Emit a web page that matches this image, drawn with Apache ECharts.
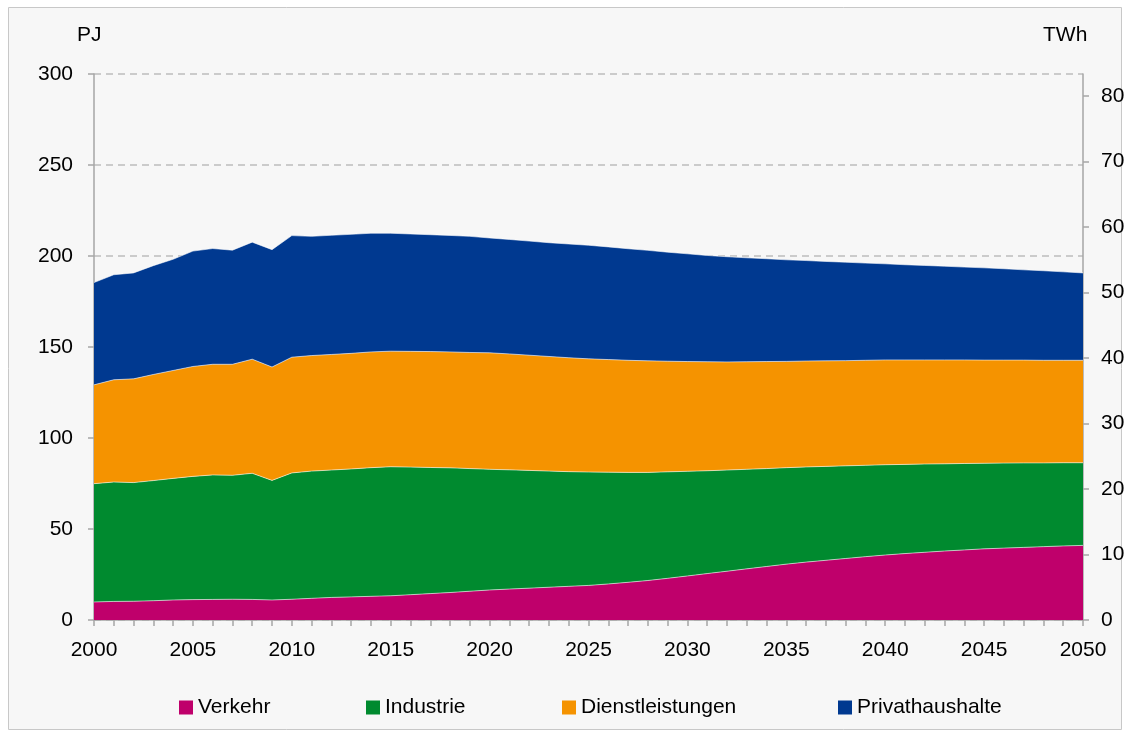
<!DOCTYPE html>
<html>
<head>
<meta charset="utf-8">
<script src="https://cdn.jsdelivr.net/npm/echarts@6/dist/echarts.min.js"></script>
<style>
html,body{margin:0;padding:0;background:#ffffff;}
#chart{width:1130px;height:734px;}
</style>
</head>
<body>
<div id="chart"></div>
<script>
const years = [];
for (let y = 2000; y <= 2050; y++) years.push(String(y));

const seriesNames = ['Verkehr', 'Industrie', 'Dienstleistungen', 'Privathaushalte'];

const verkehr = [9.9, 10.2, 10.3, 10.6, 11.0, 11.2, 11.3, 11.4, 11.3, 11.0, 11.4, 11.9, 12.4, 12.7, 13.0, 13.3, 13.9, 14.5, 15.1, 15.8, 16.5, 17.0, 17.5, 18.0, 18.5, 19.0, 19.8, 20.7, 21.7, 22.9, 24.2, 25.5, 26.8, 28.1, 29.4, 30.7, 31.8, 32.8, 33.8, 34.8, 35.7, 36.5, 37.2, 37.9, 38.5, 39.1, 39.5, 39.9, 40.3, 40.7, 41.0];
const industrie = [65.0, 65.6, 65.2, 66.0, 66.8, 67.7, 68.4, 68.1, 69.3, 65.7, 69.4, 69.9, 70.0, 70.3, 70.7, 70.9, 70.1, 69.3, 68.5, 67.4, 66.3, 65.5, 64.7, 63.8, 63.0, 62.3, 61.4, 60.4, 59.4, 58.5, 57.5, 56.5, 55.6, 54.7, 53.8, 53.0, 52.3, 51.6, 50.9, 50.2, 49.6, 49.0, 48.5, 47.9, 47.5, 47.0, 46.7, 46.4, 46.0, 45.7, 45.4];
const dienstleistungen = [54.3, 56.2, 57.0, 58.3, 59.3, 60.4, 60.8, 61.0, 62.7, 62.3, 63.6, 63.5, 63.5, 63.5, 63.6, 63.5, 63.6, 63.7, 63.7, 63.8, 64.0, 63.7, 63.3, 63.0, 62.6, 62.2, 61.9, 61.6, 61.3, 60.8, 60.3, 59.9, 59.4, 59.1, 58.8, 58.4, 58.2, 58.0, 57.8, 57.7, 57.6, 57.4, 57.2, 57.1, 56.9, 56.7, 56.6, 56.5, 56.4, 56.3, 56.3];
const privathaushalte = [56.2, 57.7, 58.2, 59.8, 61.1, 63.4, 63.6, 62.7, 64.3, 64.5, 66.8, 65.5, 65.5, 65.4, 65.2, 64.8, 64.5, 64.2, 64.0, 63.8, 63.1, 62.9, 62.7, 62.5, 62.5, 62.4, 61.9, 61.3, 60.7, 59.9, 59.2, 58.4, 57.8, 57.1, 56.5, 55.8, 55.2, 54.6, 54.1, 53.4, 52.8, 52.3, 51.9, 51.5, 51.0, 50.7, 50.2, 49.6, 49.2, 48.6, 48.0];

const leftTicks = [0, 50, 100, 150, 200, 250, 300];
const rightTicks = [0, 10, 20, 30, 40, 50, 60, 70, 80];
const leftUnit = 'PJ';
const rightUnit = 'TWh';

const colors = ['#bf006b', '#008a2f', '#f59300', '#003990'];
const seriesData = [verkehr, industrie, dienstleistungen, privathaushalte];
const legendLeft = [174, 361, 557, 833];

const FONT = '"Liberation Sans", Arial, sans-serif';
const FS = 21;
const chart = echarts.init(document.getElementById('chart'), null, {renderer: 'canvas'});

const option = {
  backgroundColor: '#ffffff',
  animation: false,
  textStyle: {fontFamily: FONT},
  graphic: [
    {type: 'rect', z: -10, shape: {x: 8.5, y: 7.5, width: 1113, height: 722},
     style: {fill: '#f7f7f7', stroke: '#c8c8c8', lineWidth: 1}},
    {type: 'text', left: 77, top: 25, style: {text: leftUnit, font: FS + 'px ' + FONT, fill: '#000'}},
    {type: 'text', left: 1043, top: 25, style: {text: rightUnit, font: FS + 'px ' + FONT, fill: '#000'}}
  ],
  grid: {left: 94, right: 47, top: 74, bottom: 114, containLabel: false},
  legend: seriesNames.map((name, i) => ({
    data: [name],
    left: legendLeft[i], top: 692,
    itemWidth: 14, itemHeight: 14, itemGap: 5,
    icon: 'rect',
    textStyle: {fontSize: FS, color: '#000', fontFamily: FONT}
  })),
  xAxis: {
    type: 'category',
    data: years,
    boundaryGap: false,
    axisLine: {lineStyle: {color: '#a6a6a6', width: 1.5}},
    axisTick: {show: true, interval: 0, inside: false, length: 6, lineStyle: {color: '#a6a6a6', width: 1.5}},
    axisLabel: {interval: 4, fontSize: FS, color: '#000', margin: 20, fontFamily: FONT},
    splitLine: {show: false}
  },
  yAxis: [
    {
      type: 'value', min: 0, max: 300, interval: 50,
      axisLine: {show: true, lineStyle: {color: '#a6a6a6', width: 1.5}},
      axisTick: {show: true, length: 6, lineStyle: {color: '#a6a6a6', width: 1.5}},
      axisLabel: {fontSize: FS, color: '#000', margin: 21, fontFamily: FONT},
      splitLine: {show: true, lineStyle: {color: '#bdbdbd', type: [7, 5], width: 1.5}}
    },
    {
      type: 'value', min: 0, max: 300 / 3.6, position: 'right',
      axisLine: {show: true, lineStyle: {color: '#a6a6a6', width: 1.5}},
      axisTick: {show: true, length: 6, customValues: rightTicks, lineStyle: {color: '#a6a6a6', width: 1.5}},
      axisLabel: {fontSize: FS, color: '#000', margin: 18, customValues: rightTicks, fontFamily: FONT},
      splitLine: {show: false}
    }
  ],
  series: seriesNames.map((name, i) => ({
    name: name,
    type: 'line',
    stack: 'total',
    yAxisIndex: 0,
    data: seriesData[i],
    symbol: 'none',
    color: colors[i],
    lineStyle: {width: 0.8, color: 'rgba(255,255,255,0.7)'},
    areaStyle: {color: colors[i], opacity: 1},
    z: 2
  }))
};
chart.setOption(option);
</script>
</body>
</html>
